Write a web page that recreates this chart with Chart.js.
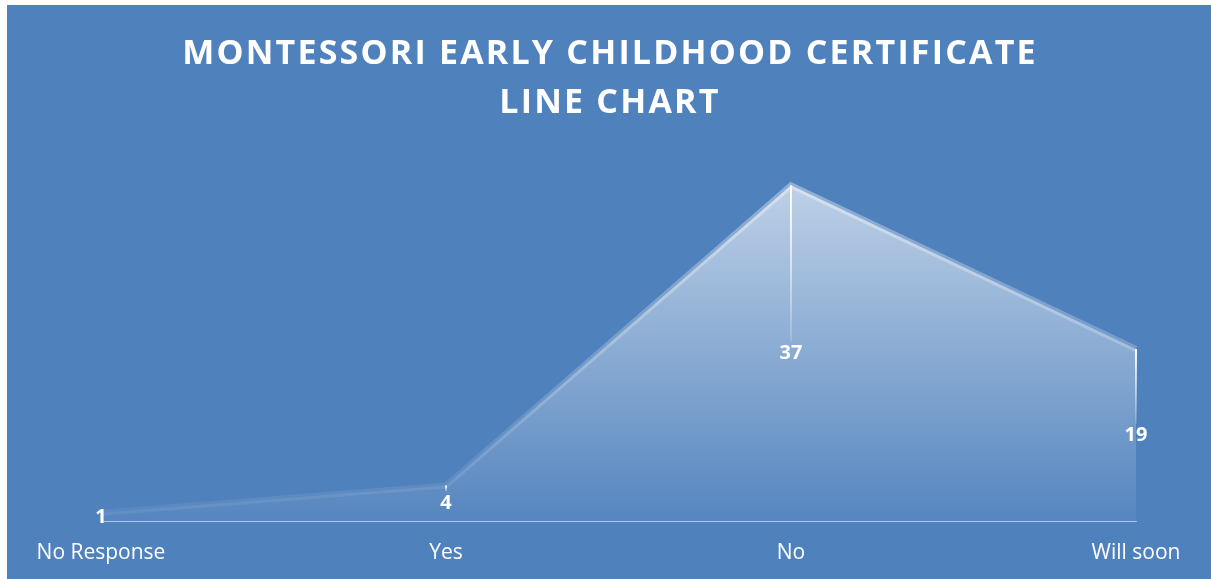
<!DOCTYPE html>
<html>
<head>
<meta charset="utf-8">
<script src="https://cdn.jsdelivr.net/npm/chart.js@4.4.0/dist/chart.umd.min.js"></script>
<style>
  html, body { margin: 0; padding: 0; background: #ffffff; }
  #wrap { position: absolute; left: 7px; top: 5px; width: 1204px; height: 574px; background: #4f81bd; }
</style>
</head>
<body>
<div id="wrap"><canvas id="lineChart" width="1204" height="574"></canvas></div>
<script>
var categories = ['No Response', 'Yes', 'No', 'Will soon'];
var counts = [1, 4, 37, 19];
var titleLines = ['MONTESSORI EARLY CHILDHOOD CERTIFICATE', 'LINE CHART'];

// title with letter spacing (chart.js title has no letterSpacing option)
var titlePlugin = {
    id: 'spacedTitle',
    afterDraw: function(chart) {
        var ctx = chart.ctx;
        ctx.save();
        ctx.fillStyle = '#ffffff';
        ctx.font = 'bold 34px "Open Sans"';
        ctx.letterSpacing = '2.2px';
        ctx.textAlign = 'center';
        ctx.textBaseline = 'alphabetic';
        ctx.fillText(titleLines[0], 603, 59);
        ctx.fillText(titleLines[1], 603, 108);
        ctx.restore();
    }
};

// drop lines from each point + value labels halfway down
var dropLabels = {
    id: 'dropLabels',
    afterDatasetsDraw: function(chart) {
        var ctx = chart.ctx;
        var bottom = chart.chartArea.bottom;
        var meta = chart.getDatasetMeta(0);
        ctx.save();
        meta.data.forEach(function(pt, i) {
            var mid = (pt.y + bottom) / 2;
            var endY = Math.max(pt.y + 2, mid - 12);
            if (endY - pt.y > 2) {
                var g = ctx.createLinearGradient(0, pt.y, 0, endY);
                g.addColorStop(0, 'rgba(255,255,255,1)');
                g.addColorStop(1, 'rgba(255,255,255,0.15)');
                ctx.strokeStyle = g;
                ctx.lineWidth = 2;
                ctx.beginPath();
                ctx.moveTo(pt.x, pt.y);
                ctx.lineTo(pt.x, endY);
                ctx.stroke();
            }
            ctx.fillStyle = '#ffffff';
            ctx.font = 'bold 20px "Open Sans"';
            ctx.textAlign = 'center';
            ctx.textBaseline = 'middle';
            ctx.fillText(String(counts[i]), pt.x, mid);
        });
        ctx.restore();
    }
};

var ctx = document.getElementById('lineChart');
var chart = new Chart(ctx, {
    type: 'line',
    data: {
        labels: categories,
        datasets: [{
            label: 'Count',
            data: counts,
            fill: 'origin',
            tension: 0,
            pointRadius: 0,
            borderWidth: 6,
            borderColor: function(context) {
                var c = context.chart;
                var area = c.chartArea;
                if (!area) return 'rgba(255,255,255,0.25)';
                var g = c.ctx.createLinearGradient(0, area.top, 0, area.bottom);
                g.addColorStop(0, 'rgba(255,255,255,0.4)');
                g.addColorStop(1, 'rgba(255,255,255,0.05)');
                return g;
            },
            backgroundColor: function(context) {
                var c = context.chart;
                var area = c.chartArea;
                if (!area) return 'rgba(255,255,255,0.3)';
                var g = c.ctx.createLinearGradient(0, area.top, 0, area.bottom);
                g.addColorStop(0, 'rgba(255,255,255,0.68)');
                g.addColorStop(1, 'rgba(255,255,255,0.04)');
                return g;
            }
        }]
    },
    options: {
        responsive: false,
        animation: false,
        layout: { padding: { left: 94, right: 75, top: 153, bottom: 2 } },
        plugins: {
            legend: { display: false },
            title: { display: false },
            tooltip: { enabled: false }
        },
        scales: {
            x: {
                offset: false,
                grid: { display: false },
                border: { display: true, color: 'rgba(255,255,255,0.55)', width: 1, dash: [2, 1] },
                ticks: {
                    color: '#ffffff',
                    font: { family: 'Open Sans', size: 21 },
                    padding: 11,
                    maxRotation: 0,
                    autoSkip: false
                },
                afterFit: function(scale) {
                    scale.paddingLeft = 0;
                    scale.paddingRight = 0;
                }
            },
            y: {
                display: false,
                min: 0,
                max: 40
            }
        }
    },
    plugins: [titlePlugin, dropLabels]
});
</script>
</body>
</html>
